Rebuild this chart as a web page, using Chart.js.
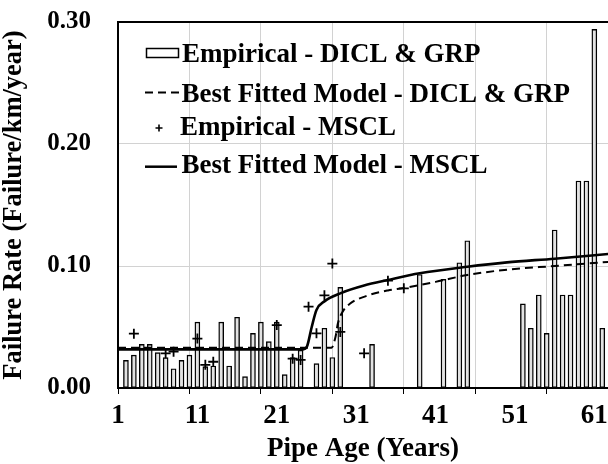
<!DOCTYPE html>
<html><head><meta charset="utf-8">
<script src="https://cdn.jsdelivr.net/npm/chart.js@4.4.0/dist/chart.umd.min.js"></script>
<style>html,body{margin:0;padding:0;background:#fff;} #wrap{width:608px;height:464px;position:relative;}</style>
</head><body><div id="wrap"><canvas id="c" width="608" height="464"></canvas></div>
<script>
// ---- data ----
const barAges  = [2,3,4,5,6,7,8,9,10,11,12,13,14,15,16,17,18,19,20,21,22,23,24,26,27,28,29,33,39,42,44,45,52,53,54,55,56,57,58,59,60,61,62];
const barRates = [0.0227,0.027,0.0358,0.0358,0.029,0.0249,0.0158,0.0227,0.027,0.054,0.0175,0.018,0.054,0.018,0.058,0.0093,0.0448,0.054,0.038,0.054,0.011,0.025,0.031,0.020,0.049,0.025,0.0825,0.0358,0.093,0.089,0.1027,0.1207,0.069,0.049,0.0762,0.0448,0.1295,0.0762,0.0762,0.1697,0.1697,0.294,0.049];
const msclAges  = [3,7,8,11,12,13,21,23,24,25,26,27,28,29,32,35,37];
const msclRates = [0.0445,0.0284,0.0298,0.0405,0.019,0.0215,0.0516,0.024,0.023,0.0667,0.0448,0.076,0.102,0.046,0.0284,0.088,0.0817];
const fitDiclAges  = [1,27.9,28.4,28.7,29.3,30.2,32.3,35,37,41,45,50,56,63];
const fitDiclRates = [0.033,0.033,0.042,0.053,0.0625,0.069,0.0755,0.080,0.082,0.087,0.0926,0.097,0.100,0.1035];
const fitMsclAges  = [1,24.3,24.8,25.4,26,27,29,32,35,39,45,50,56,63];
const fitMsclRates = [0.0317,0.0317,0.034,0.050,0.064,0.071,0.0776,0.084,0.0885,0.094,0.0994,0.103,0.106,0.110];
const xLabelAges = [1,11,21,31,41,51,61];
const xGridAges  = [1,10,19,28,37,46,55];
const yTicks = [0,0.1,0.2,0.3];
const legendLabels = ['Empirical - DICL & GRP','Best Fitted Model - DICL & GRP','Empirical - MSCL','Best Fitted Model - MSCL'];
const xTitle = 'Pipe Age (Years)';
const yTitle = 'Failure Rate (Failure/km/year)';

const FONT = '"Liberation Serif", "Times New Roman", serif';
const pts = (xs, ys) => xs.map((x, i) => ({x: x, y: ys[i]}));
const allXTicks = Array.from(new Set(xLabelAges.concat(xGridAges))).sort((a,b)=>a-b);

const framePlugin = {
  id: 'frameAndLegend',
  afterDraw(chart) {
    const ctx = chart.ctx, ca = chart.chartArea;
    ctx.save();
    ctx.strokeStyle = '#000'; ctx.lineWidth = 2;
    ctx.beginPath(); ctx.moveTo(ca.left, ca.top); ctx.lineTo(ca.right, ca.top); ctx.stroke();
    const L = ca.left, T = ca.top;
    const baselines = [39.7, 79.7, 113, 151.3];
    const textX = [64, 63.5, 62, 63.5];
    ctx.lineWidth = 1.5; ctx.fillStyle = '#fff';
    ctx.fillRect(L + 28.5, T + 26.5, 32, 9);
    ctx.strokeRect(L + 28.5, T + 26.5, 32, 9);
    ctx.lineWidth = 2; ctx.setLineDash([8, 5]);
    ctx.beginPath(); ctx.moveTo(L + 27, T + 70.5); ctx.lineTo(L + 62, T + 70.5); ctx.stroke();
    ctx.setLineDash([]);
    ctx.lineWidth = 1.6;
    const px = L + 41, py = T + 106;
    ctx.beginPath(); ctx.moveTo(px - 3.5, py); ctx.lineTo(px + 3.5, py);
    ctx.moveTo(px, py - 3.5); ctx.lineTo(px, py + 3.5); ctx.stroke();
    ctx.lineWidth = 2.5;
    ctx.beginPath(); ctx.moveTo(L + 27, T + 144.7); ctx.lineTo(L + 59, T + 144.7); ctx.stroke();
    ctx.fillStyle = '#000';
    ctx.font = 'bold 27px ' + FONT;
    ctx.textBaseline = 'alphabetic'; ctx.textAlign = 'left';
    legendLabels.forEach((t, i) => ctx.fillText(t, L + textX[i], T + baselines[i]));
    ctx.restore();
  }
};

new Chart(document.getElementById('c'), {
  type: 'bar',
  data: {
    datasets: [
      { type: 'line', label: legendLabels[2], data: pts(msclAges, msclRates), showLine: false,
        pointStyle: 'cross', pointRadius: 5, pointBorderWidth: 1.8, borderColor: '#000', backgroundColor: '#000', order: 0 },
      { type: 'line', label: legendLabels[3], data: pts(fitMsclAges, fitMsclRates), borderColor: '#000', borderWidth: 2.6,
        pointRadius: 0, cubicInterpolationMode: 'monotone', fill: false, order: 1 },
      { type: 'line', label: legendLabels[1], data: pts(fitDiclAges, fitDiclRates), borderColor: '#000', borderWidth: 2,
        borderDash: [8, 5], pointRadius: 0, cubicInterpolationMode: 'monotone', fill: false, order: 2 },
      { type: 'bar', label: legendLabels[0], data: pts(barAges, barRates), backgroundColor: '#e2e2e2',
        borderColor: '#000', borderWidth: 1.4, barThickness: 5, borderSkipped: false, order: 3 }
    ]
  },
  options: {
    responsive: false, animation: false, devicePixelRatio: 1,
    layout: { autoPadding: false, padding: { top: 22, left: 0, right: 0, bottom: 0 } },
    plugins: { legend: { display: false }, tooltip: { enabled: false } },
    scales: {
      x: {
        type: 'linear', min: 1, max: 62.72, offset: false,
        afterBuildTicks: (s) => { s.ticks = allXTicks.map(v => ({ value: v })); },
        afterFit: (s) => { s.height = 76; s.paddingLeft = 0; s.paddingRight = 0; },
        ticks: { autoSkip: false, maxRotation: 0, minRotation: 0, color: '#000', padding: 6,
          font: { family: FONT, size: 27, weight: 'bold' },
          callback: (v) => xLabelAges.includes(v) ? String(v) : '' },
        grid: {
          offset: false,
          color: (c) => (c.tick && xGridAges.includes(c.tick.value) && c.tick.value !== 1) ? '#d2d2d2' : 'rgba(0,0,0,0)',
          tickColor: (c) => (c.tick && xGridAges.includes(c.tick.value)) ? '#000' : 'rgba(0,0,0,0)',
          tickLength: 6, lineWidth: 1
        },
        border: { color: '#000', width: 2 },
        title: { display: true, text: xTitle, color: '#000', padding: 0,
          font: { family: FONT, size: 27, weight: 'bold', lineHeight: 1.1 } }
      },
      y: {
        type: 'linear', min: 0, max: 0.3,
        afterBuildTicks: (s) => { s.ticks = yTicks.map(v => ({ value: v })); },
        afterFit: (s) => { s.width = 118; s.paddingTop = 0; s.paddingBottom = 0; },
        ticks: { color: '#000', padding: 27, font: { family: FONT, size: 25, weight: 'bold' },
          callback: (v) => Number(v).toFixed(2) },
        grid: {
          drawTicks: false,
          color: (c) => (c.tick && c.tick.value > 0.001 && c.tick.value < 0.299) ? '#d2d2d2' : 'rgba(0,0,0,0)',
          lineWidth: 1
        },
        border: { color: '#000', width: 2 },
        title: { display: true, text: yTitle, color: '#000', padding: 0,
          font: { family: FONT, size: 26.5, weight: 'bold', lineHeight: 1.1 } }
      }
    }
  },
  plugins: [framePlugin]
});
</script></body></html>
